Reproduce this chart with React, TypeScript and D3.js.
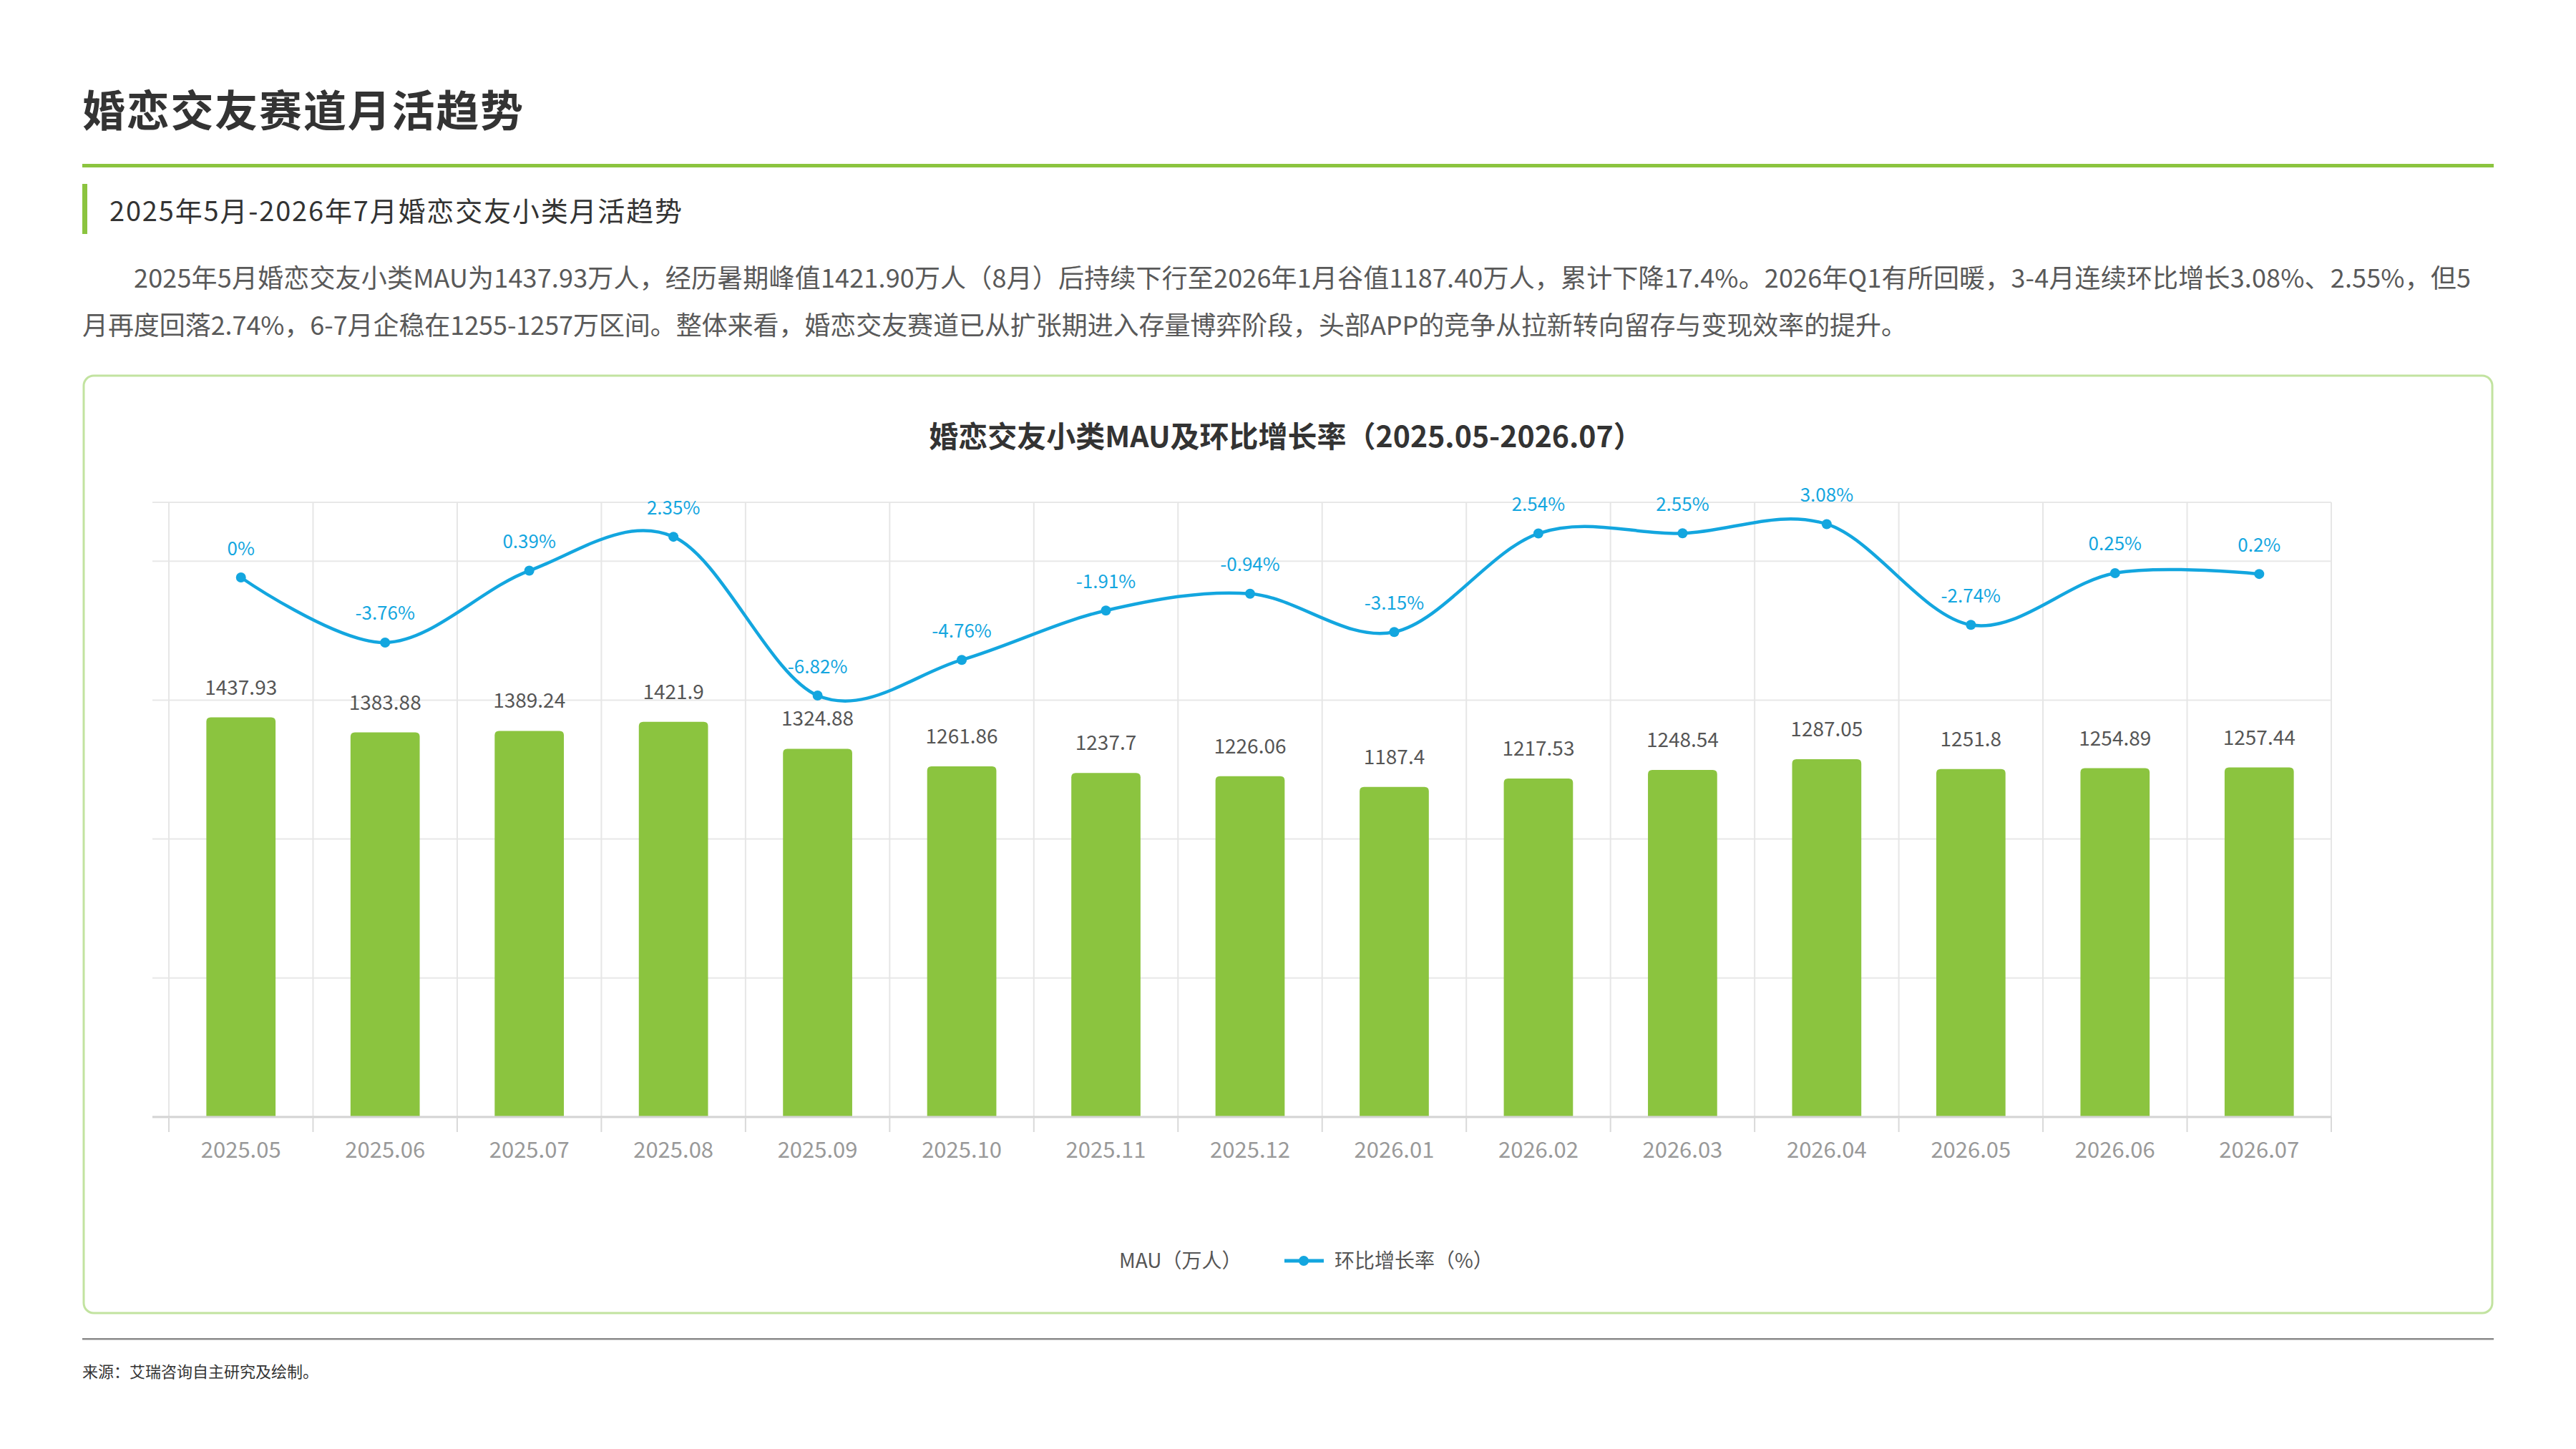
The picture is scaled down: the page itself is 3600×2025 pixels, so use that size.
import React from 'react';
import * as d3 from 'd3';

const months = ['2025.05','2025.06','2025.07','2025.08','2025.09','2025.10','2025.11','2025.12','2026.01','2026.02','2026.03','2026.04','2026.05','2026.06','2026.07'];
const mau = [1437.93,1383.88,1389.24,1421.9,1324.88,1261.86,1237.7,1226.06,1187.4,1217.53,1248.54,1287.05,1251.8,1254.89,1257.44];
const mom = [0,-3.76,0.39,2.35,-6.82,-4.76,-1.91,-0.94,-3.15,2.54,2.55,3.08,-2.74,0.25,0.2];
const barTicks = [0,500,1000,1500,2000];

const pageTitle = '婚恋交友赛道月活趋势';
const subTitle = '2025年5月-2026年7月婚恋交友小类月活趋势';
const para1 = '2025年5月婚恋交友小类MAU为1437.93万人，经历暑期峰值1421.90万人（8月）后持续下行至2026年1月谷值1187.40万人，累计下降17.4%。2026年Q1有所回暖，3-4月连续环比增长3.08%、2.55%，但5';
const para2 = '月再度回落2.74%，6-7月企稳在1255-1257万区间。整体来看，婚恋交友赛道已从扩张期进入存量博弈阶段，头部APP的竞争从拉新转向留存与变现效率的提升。';
const chartTitle = '婚恋交友小类MAU及环比增长率（2025.05-2026.07）';
const legendBar = 'MAU（万人）';
const legendLine = '环比增长率（%）';
const source = '来源：艾瑞咨询自主研究及绘制。';

const FONT = "'Noto Sans CJK SC', 'Noto Sans', sans-serif";
const GREEN = '#8bc43f';
const BLUE = '#13a6df';

function topRounded(x: number, y: number, w: number, h: number, r: number) {
  const rr = Math.min(r, h / 2, w / 2);
  return `M${x},${y + h}V${y + rr}Q${x},${y} ${x + rr},${y}H${x + w - rr}Q${x + w},${y} ${x + w},${y + rr}V${y + h}Z`;
}

export default function App() {
  const W = 3600, H = 2025;
  const plotLeft = 236, plotRight = 3258, gridLeft = 213;
  const plotTop = 702, plotBottom = 1561;

  const x = d3.scaleBand<string>().domain(months).range([plotLeft, plotRight]).paddingInner(0).paddingOuter(0);
  const bw = x.bandwidth() * 0.48;
  const yBar = d3.scaleLinear().domain([0, 2000]).range([plotBottom, plotBottom - 2000 * 0.3884]);
  const zeroY = 807, pxPer = 24.2;
  const yLine = d3.scaleLinear().domain([-8, 4]).range([zeroY + 8 * pxPer, zeroY - 4 * pxPer]);

  const line = d3.line<number>()
    .x((_, i) => (x(months[i]) as number) + x.bandwidth() / 2)
    .y(d => yLine(d))
    .curve(d3.curveCardinal.tension(0));

  const boundaries = months.map(m => x(m) as number).concat([plotRight]);

  return (
    <svg width={W} height={H} viewBox={`0 0 ${W} ${H}`} style={{ position: 'absolute', left: 0, top: 0, background: '#fff' }} fontFamily={FONT}>
      <rect x={0} y={0} width={W} height={H} fill="#fff" />
      {/* Header */}
      <text x={115} y={150} fontSize={60} fontWeight={700} fill="#333" dominantBaseline="central" textLength={616} lengthAdjust="spacing">{pageTitle}</text>
      <rect x={115} y={229} width={3370} height={5} fill={GREEN} />
      <rect x={115} y={257} width={7} height={70} fill={GREEN} />
      <text x={153} y={292} fontSize={38} fill="#333" dominantBaseline="central" textLength={800} lengthAdjust="spacing">{subTitle}</text>
      <text x={187} y={386} fontSize={36} fill="#595959" dominantBaseline="central" textLength={3266} lengthAdjust="spacing">{para1}</text>
      <text x={115} y={452} fontSize={36} fill="#595959" dominantBaseline="central" textLength={2550} lengthAdjust="spacing">{para2}</text>

      {/* Chart frame */}
      <rect x={117} y={525} width={3366} height={1310} rx={14} ry={14} fill="#fff" stroke="#c2e3a0" strokeWidth={3} />
      <text x={1797} y={607} fontSize={41} fontWeight={700} fill="#333" textAnchor="middle" dominantBaseline="central">{chartTitle}</text>

      {/* Grid */}
      <line x1={gridLeft} x2={plotRight} y1={plotTop} y2={plotTop} stroke="#e8e8e8" strokeWidth={2} />
      {barTicks.slice(1).map(t => (
        <line key={t} x1={gridLeft} x2={plotRight} y1={yBar(t)} y2={yBar(t)} stroke="#e8e8e8" strokeWidth={2} />
      ))}
      {boundaries.map((b, i) => (
        <line key={i} x1={b} x2={b} y1={plotTop} y2={plotBottom} stroke="#e6e6e6" strokeWidth={2} />
      ))}

      {/* Bars */}
      {mau.map((v, i) => {
        const cx = (x(months[i]) as number) + x.bandwidth() / 2;
        const top = yBar(v);
        return (
          <g key={months[i]}>
            <path d={topRounded(cx - bw / 2, top, bw, plotBottom - top, 6)} fill={GREEN} />
            <text x={cx} y={top - 44} fontSize={28} fill="#555" textAnchor="middle" dominantBaseline="central">{String(v)}</text>
          </g>
        );
      })}

      {/* X axis */}
      <line x1={gridLeft} x2={plotRight} y1={plotBottom} y2={plotBottom} stroke="#d4d4d4" strokeWidth={3} />
      {boundaries.map((b, i) => (
        <line key={'t' + i} x1={b} x2={b} y1={plotBottom} y2={plotBottom + 21} stroke="#d9d9d9" strokeWidth={2} />
      ))}
      {months.map(m => (
        <text key={m} x={(x(m) as number) + x.bandwidth() / 2} y={1604} fontSize={31} fill="#999" textAnchor="middle" dominantBaseline="central">{m}</text>
      ))}

      {/* Line */}
      <path d={line(mom) || ''} fill="none" stroke={BLUE} strokeWidth={4.5} />
      {mom.map((v, i) => {
        const cx = (x(months[i]) as number) + x.bandwidth() / 2;
        return (
          <g key={'p' + i}>
            <circle cx={cx} cy={yLine(v)} r={7} fill={BLUE} />
            <text x={cx} y={yLine(v) - 43} fontSize={26} fill={BLUE} textAnchor="middle" dominantBaseline="central">{`${v}%`}</text>
          </g>
        );
      })}

      {/* Legend */}
      <text x={1564} y={1760} fontSize={28} fill="#555" dominantBaseline="central">{legendBar}</text>
      <line x1={1795} x2={1850} y1={1762} y2={1762} stroke={BLUE} strokeWidth={5} />
      <circle cx={1822} cy={1762} r={7} fill={BLUE} />
      <text x={1865} y={1760} fontSize={28} fill="#555" dominantBaseline="central">{legendLine}</text>

      {/* Footer */}
      <rect x={115} y={1870} width={3370} height={2.5} fill="#8a8a8a" />
      <text x={115} y={1915} fontSize={22} fill="#333" dominantBaseline="central">{source}</text>
    </svg>
  );
}
